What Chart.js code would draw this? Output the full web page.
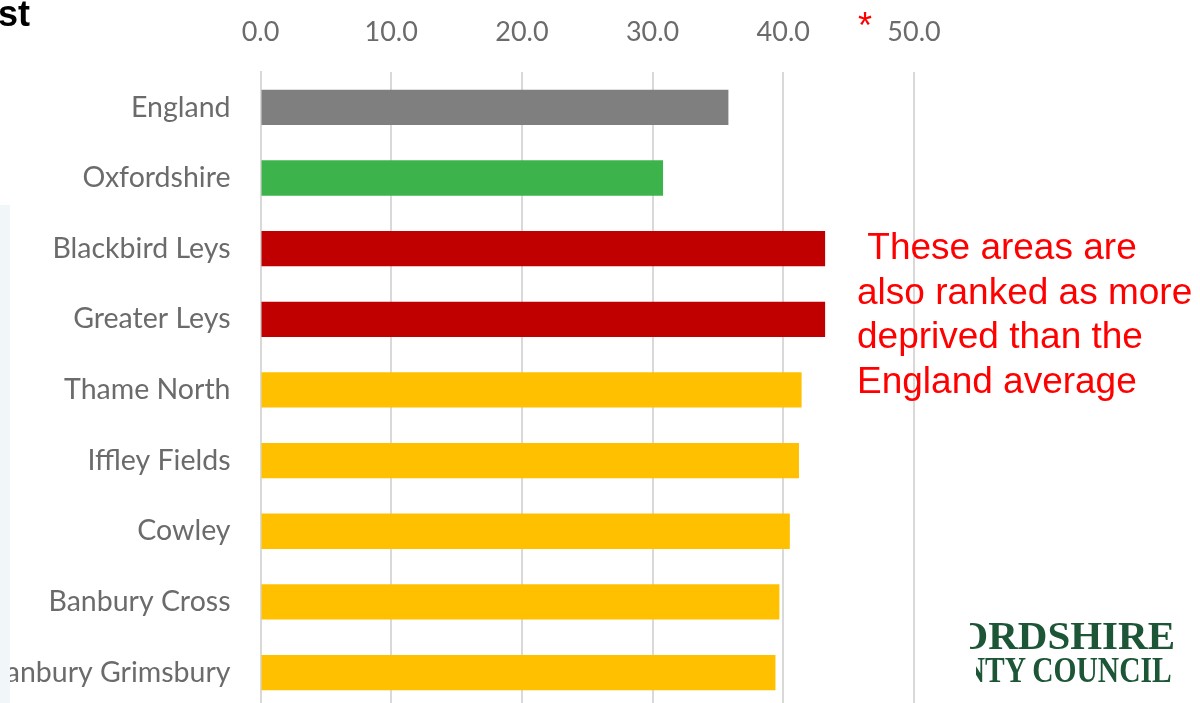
<!DOCTYPE html>
<html>
<head>
<meta charset="utf-8">
<script src="https://cdn.jsdelivr.net/npm/chart.js@4.4.1/dist/chart.umd.min.js"></script>
<style>
  html, body { margin: 0; padding: 0; width: 1200px; height: 703px; overflow: hidden; background: #ffffff; }
  #wrap { position: absolute; left: 0; top: 0; width: 1200px; height: 760px; }
  .ov { position: absolute; white-space: nowrap; }
  #title { left: -70px; top: -4px; width: 100px; text-align: right; font: bold 36px/36px "Liberation Sans", Arial, sans-serif; color: #000; }
  #star { left: 858px; top: 8px; font: 36px/36px "Liberation Sans", Arial, sans-serif; color: #ff0000; }
  #note { left: 857px; top: 225px; font: 37px/44.5px "Liberation Sans", Arial, sans-serif; color: #ff0000; }
  #panel { left: 0; top: 205px; width: 10px; height: 500px; background: #f1f7f9; }
  .logo { overflow: hidden; color: #1d5637; font-family: "Liberation Serif", "Times New Roman", serif; font-weight: bold; }
  .logo span { position: absolute; right: 0; top: 0; white-space: nowrap; transform-origin: right center; }
  #logo1 { left: 970px; top: 612px; width: 205px; height: 46px; font-size: 41px; line-height: 46px; }
  #logo2 { left: 976px; top: 650px; width: 196px; height: 40px; font-size: 36px; line-height: 40px; }
  #logo2 span { transform: scaleX(0.82); }
</style>
</head>
<body>
<div id="wrap"><canvas id="c" width="1200" height="755"></canvas></div>
<div class="ov" id="panel"></div>
<div class="ov" id="title">st</div>
<div class="ov" id="star">*</div>
<div class="ov" id="note">&nbsp;These areas are<br>also ranked as more<br>deprived than the<br>England average</div>
<div class="ov logo" id="logo1"><span>OXFORDSHIRE</span></div>
<div class="ov logo" id="logo2"><span>COUNTY COUNCIL</span></div>
<script>
const categories = ["England", "Oxfordshire", "Blackbird Leys", "Greater Leys", "Thame North", "Iffley Fields", "Cowley", "Banbury Cross", "Banbury Grimsbury"];
const values = [35.8, 30.8, 43.2, 43.2, 41.4, 41.2, 40.5, 39.7, 39.4];
const axisTicks = [0, 10, 20, 30, 40, 50];

const barColours = ["#7f7f7f", "#3cb44b", "#c00000", "#c00000", "#ffc000", "#ffc000", "#ffc000", "#ffc000", "#ffc000"];

new Chart(document.getElementById('c'), {
  type: 'bar',
  data: {
    labels: categories,
    datasets: [{
      data: values,
      backgroundColor: barColours,
      borderWidth: 0,
      categoryPercentage: 1.0,
      barPercentage: 0.5
    }]
  },
  options: {
    indexAxis: 'y',
    responsive: false,
    animation: false,
    layout: { padding: { left: 0, right: 286, top: 0, bottom: 0 } },
    plugins: { legend: { display: false }, tooltip: { enabled: false } },
    scales: {
      x: {
        position: 'top',
        min: axisTicks[0],
        max: axisTicks[axisTicks.length - 1],
        afterBuildTicks: (s) => { s.ticks = axisTicks.map(v => ({ value: v })); },
        afterFit: (s) => { s.height = 72; },
        grid: { color: '#d9d9d9', lineWidth: 2, drawTicks: false },
        border: { display: false },
        ticks: {
          padding: 24,
          color: '#6b6b6b',
          font: { family: 'Lato', size: 27 },
          callback: (v) => Number(v).toFixed(1)
        }
      },
      y: {
        afterFit: (s) => { s.width = 260.5; },
        grid: { display: false, drawTicks: false },
        border: { display: true, color: '#d9d9d9', width: 2 },
        ticks: {
          padding: 30,
          color: '#6b6b6b',
          font: { family: 'Lato', size: 28.5 }
        }
      }
    }
  }
});
</script>
</body>
</html>
